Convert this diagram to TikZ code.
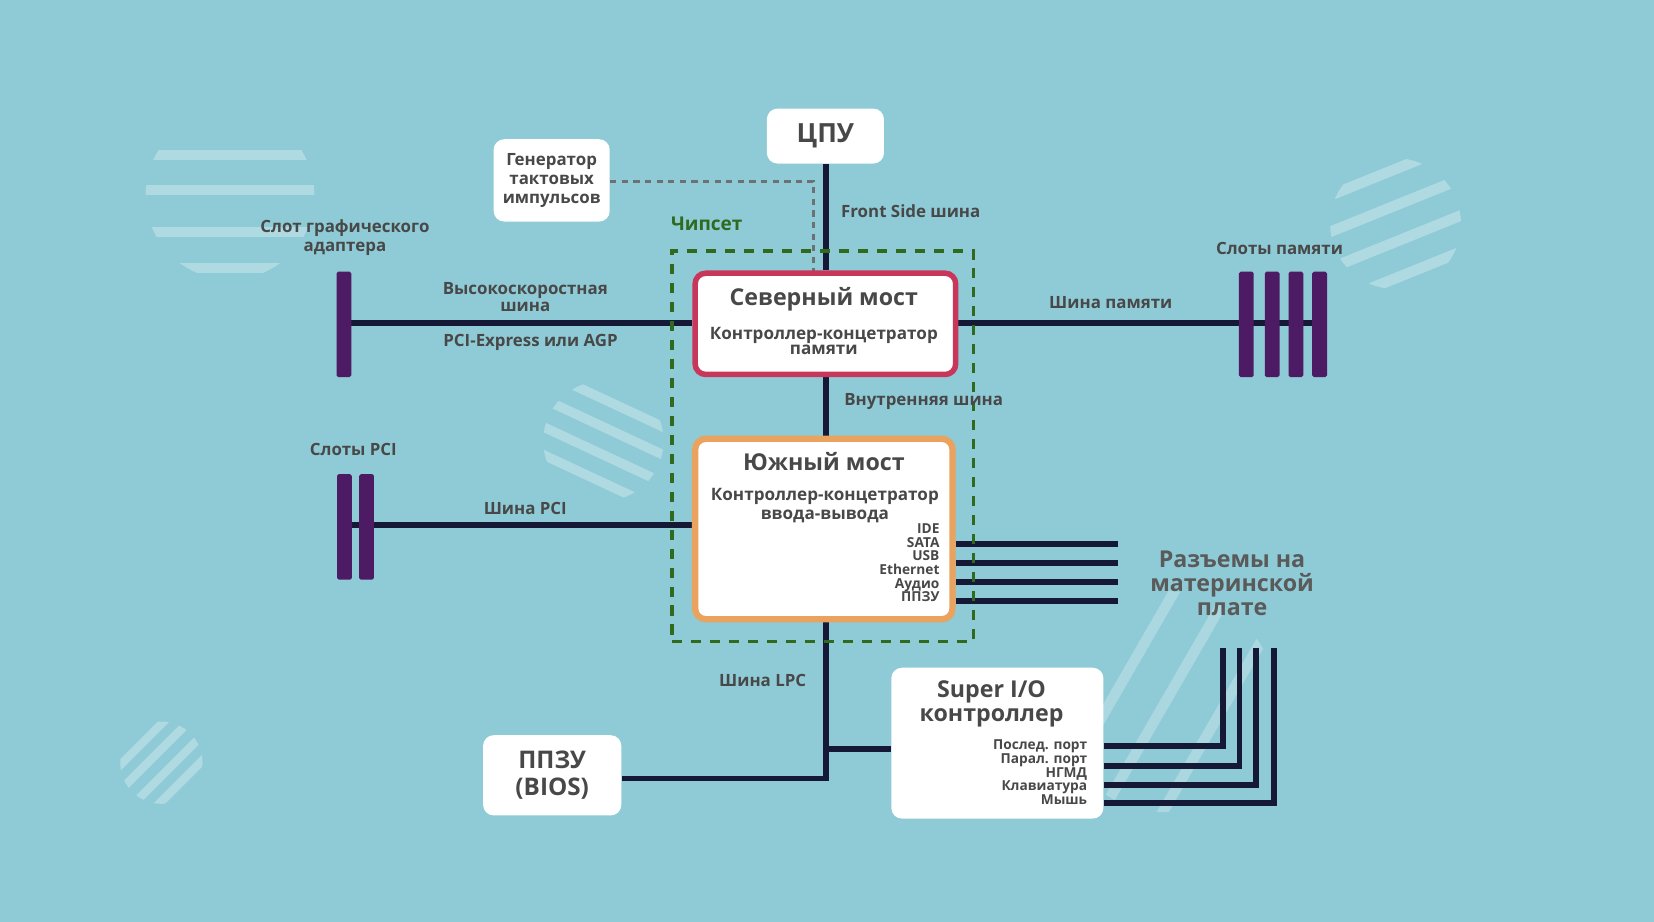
\documentclass[tikz,border=0pt]{standalone}
\usepackage{fontspec}
\setmainfont{Open Sans}
\usetikzlibrary{calc}
\definecolor{bgblue}{HTML}{8FCBD6}
\definecolor{navy}{HTML}{151936}
\definecolor{purp}{HTML}{4C1B63}
\definecolor{crim}{HTML}{C8375A}
\definecolor{orng}{HTML}{E9A35E}
\definecolor{chipgreen}{HTML}{2F6A1F}
\definecolor{txtgray}{HTML}{484848}
\definecolor{dotgray}{HTML}{6C7172}
\pgfdeclarelayer{back}
\pgfdeclarelayer{wires}
\pgfsetlayers{back,wires,main}
\newcommand{\fs}[2]{\fontsize{#1}{#2}\selectfont}
\begin{document}
\begin{tikzpicture}[x=0.5pt,y=-0.5pt,
  bus/.style={draw=navy,line width=2.8pt},
  box/.style={fill=white,rounded corners=5pt,inner sep=0pt,align=center,text=txtgray,font=\bfseries},
  lbl/.style={inner sep=0pt,align=center,text=txtgray,font=\bfseries\fs{8}{9}},
  small/.style={inner sep=0pt,align=right,text=txtgray,font=\bfseries\fs{6.5}{6.5}},
  slotbar/.style={fill=purp,inner sep=0pt,minimum width=7pt,minimum height=50pt,rounded corners=0.8pt},
  stripe/.style={fill=white,fill opacity=0.3}]
\useasboundingbox (0,0) rectangle (1568,874);
\begin{pgfonlayer}{back}
\fill[bgblue] (0,0) rectangle (1568,874);
% decorative striped discs
\begin{scope}
  \clip (218,185) circle (80);
  \foreach \yy in {147,180,220,254} \fill[stripe] (120,\yy-5) rectangle (320,\yy+5);
\end{scope}
\begin{scope}
  \clip (1323,212) circle (62);
  \foreach \d in {-48,-16,16,48} \fill[stripe,rotate around={22:(1323,212)}] (1240,212+\d-5) rectangle (1400,212+\d+5);
\end{scope}
\begin{scope}
  \clip (572,418) circle (57);
  \foreach \d in {-36,-12,12,36} \fill[stripe,rotate around={-25:(572,418)}] (500,418+\d-4.5) rectangle (650,418+\d+4.5);
\end{scope}
\begin{scope}
  \clip (153,723) circle (39);
  \foreach \d in {-26,-9,9,26} \fill[stripe,rotate around={45:(153,723)}] (100,723+\d-4) rectangle (210,723+\d+4);
\end{scope}
\begin{scope}
  \clip (1105,665) circle (105);
  \foreach \d in {-45,0,50} \fill[stripe,fill opacity=0.25,rotate around={60:(1105,665)}] (980,665+\d-5) rectangle (1230,665+\d+5);
\end{scope}
\end{pgfonlayer}

% boxes
\node[box,minimum width=55.5pt,minimum height=26pt,font=\bfseries\fs{12.5}{14}] (cpu) at (782.5,129) {ЦПУ};
\node[box,minimum width=55pt,minimum height=39pt,font=\bfseries\fs{8}{9}] (gen) at (523,171) {Генератор\\тактовых\\импульсов};
\node[box,draw=crim,line width=2.6pt,minimum width=123.5pt,minimum height=48pt] (nb) at (782.5,307) {};
\node[box,draw=orng,line width=3pt,minimum width=122pt,minimum height=85.5pt] (sb) at (781,501.5) {};
\node[draw=chipgreen,line width=1.5pt,dash pattern=on 5pt off 4pt,inner sep=0pt,minimum width=143pt,minimum height=185pt] (chip) at (780,423) {};
\node[box,minimum width=65.5pt,minimum height=38pt,font=\bfseries\fs{11.5}{13}] (bios) at (523.5,735) {ППЗУ\\(BIOS)};
\node[box,minimum width=100.5pt,minimum height=71.5pt] (sio) at (945.5,704.5) {};

% slots
\node[slotbar] (gslot) at (326,307.5) {};
\node[slotbar] (pci1) at (326.5,499.5) {};
\node[slotbar] (pci2) at (347.5,499.5) {};
\node[slotbar] (mem1) at (1181.5,307.5) {};
\node[slotbar] (mem2) at (1206,307.5) {};
\node[slotbar] (mem3) at (1228.5,307.5) {};
\node[slotbar] (mem4) at (1251,307.5) {};

% free ends
\coordinate (dotend) at (771,257);
\coordinate (p1) at (1060,516);
\coordinate (p2) at (1060,534);
\coordinate (p3) at (1060,552);
\coordinate (p4) at (1060,570);
\coordinate (q1) at (1159,614);
\coordinate (q2) at (1175,614);
\coordinate (q3) at (1191,614);
\coordinate (q4) at (1208,614);
\coordinate (lpcturn) at (783,738);
\coordinate (lpcbranch) at (783,710);

\begin{pgfonlayer}{wires}
\draw[dotgray,line width=1.5pt,dash pattern=on 3pt off 2.5pt] (gen.east|-0,172) -| (dotend);
\draw[bus] (cpu.south-|783,0) -- (nb.north-|783,0);
\draw[bus] (nb.west|-0,306) -- (gslot.center|-0,306);
\draw[bus] (nb.east|-0,306) -- (mem4.center|-0,306);
\draw[bus] (nb.south-|783,0) -- (sb.north-|783,0);
\draw[bus] (sb.west|-0,498) -- (pci1.center|-0,498);
\draw[bus] (sb.east|-p1) -- (p1);
\draw[bus] (sb.east|-p2) -- (p2);
\draw[bus] (sb.east|-p3) -- (p3);
\draw[bus] (sb.east|-p4) -- (p4);
\draw[bus] (sb.south-|783,0) -- (lpcturn) -- (bios.east|-lpcturn);
\draw[bus] (lpcbranch) -- (sio.west|-lpcbranch);
\draw[bus] (sio.east|-0,707) -| (q1);
\draw[bus] (sio.east|-0,726) -| (q2);
\draw[bus] (sio.east|-0,744) -| (q3);
\draw[bus] (sio.east|-0,761) -| (q4);
\end{pgfonlayer}

% texts
\node[lbl,anchor=west] (fsb) at (797,200) {Front Side шина};
\node[lbl,text=chipgreen,font=\bfseries\fs{9}{10}] (chiplbl) at (670,212) {Чипсет};
\node[lbl,font=\bfseries\fs{11}{13}] (nbt) at (781,284) {Северный мост};
\node[lbl,font=\bfseries\fs{8.1}{7}] (nbs) at (781,323) {Контроллер-концетратор\\памяти};
\node[lbl,font=\bfseries\fs{8}{9}] (gsl) at (327,225) {Слот графического\\адаптера};
\node[lbl,font=\bfseries\fs{8}{8}] (hsb) at (498,282) {Высокоскоростная\\шина};
\node[lbl] (pcie) at (503,325) {PCI-Express или AGP};
\node[lbl] (memb) at (1053,287) {Шина памяти};
\node[lbl] (mems) at (1213,236) {Слоты памяти};
\node[lbl,anchor=west] (intb) at (800,381) {Внутренняя шина};
\node[lbl,font=\bfseries\fs{11}{13}] (sbt) at (781,438) {Южный мост};
\node[lbl,font=\bfseries\fs{8.1}{9}] (sbs) at (782,479) {Контроллер-концетратор\\ввода-вывода};
\node[small,anchor=north east] (sbp) at (891,496) {IDE\\SATA\\USB\\Ethernet\\Аудио\\ППЗУ};
\node[lbl,text=txtgray!90!white,font=\bfseries\fs{11}{11.25}] (conn) at (1168,553) {Разъемы на\\материнской\\плате};
\node[lbl] (pcis) at (335,426) {Слоты PCI};
\node[lbl] (pcib) at (498,482) {Шина PCI};
\node[lbl] (lpc) at (723,645) {Шина LPC};
\node[lbl,font=\bfseries\fs{11}{11.5}] (siot) at (940,667) {Super I/O\\контроллер};
\node[small,anchor=north east] (siop) at (1031,701) {Послед. порт\\Парал. порт\\НГМД\\Клавиатура\\Мышь};
\end{tikzpicture}
\end{document}
